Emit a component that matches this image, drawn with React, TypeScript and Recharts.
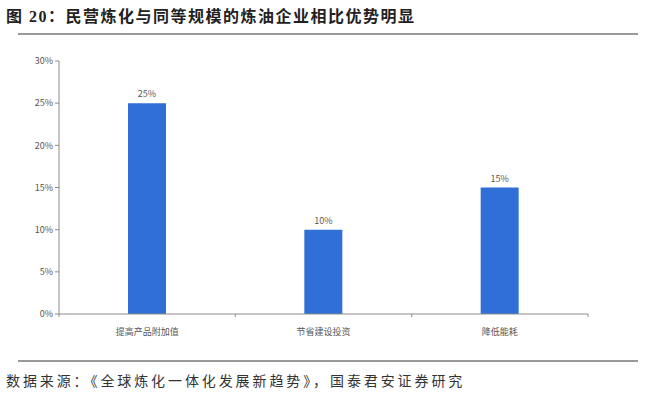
import React from 'react';
import { BarChart, Bar, XAxis, YAxis, LabelList } from 'recharts';

const categories = ['提高产品附加值', '节省建设投资', '降低能耗'];
const advantageValues = [25, 10, 15];
const yTicks = [0, 5, 10, 15, 20, 25, 30];
const boundaryTicks = [0, 1, 2, 3];

const titleText = '图 20：民营炼化与同等规模的炼油企业相比优势明显';
const sourceText = '数据来源：《全球炼化一体化发展新趋势》，国泰君安证券研究';

const data = categories.map((name, i) => ({ name, value: advantageValues[i], idx: i + 0.5 }));

const axisColor = '#8c8c8c';
const textColor = '#555555';
const sansFont = '"Noto Sans CJK SC", "Liberation Sans", sans-serif';

export default function App() {
  return (
    <div style={{ position: 'absolute', left: 0, top: 0, width: 659, height: 398, background: '#fff', overflow: 'hidden' }}>
      <div
        style={{
          position: 'absolute',
          left: 6,
          top: 7,
          fontFamily: '"Liberation Serif", "Noto Sans CJK SC", serif',
          fontWeight: 700,
          fontSize: 16,
          letterSpacing: 1.5,
          color: '#222',
          whiteSpace: 'nowrap',
          lineHeight: '20px',
        }}
      >
        {titleText}
      </div>
      <div style={{ position: 'absolute', left: 18, top: 33, width: 620, height: 2, background: '#9a9a9a' }} />

      <div style={{ position: 'absolute', left: 0, top: 0 }}>
        <BarChart
          width={659}
          height={398}
          data={data}
          margin={{ top: 61, right: 71, bottom: 59, left: 19 }}
        >
          {/* category boundaries with tick marks, also carries the baseline */}
          <XAxis
            xAxisId="bounds"
            type="number"
            dataKey="idx"
            domain={[0, 3]}
            ticks={boundaryTicks}
            tickFormatter={() => ''}
            axisLine={{ stroke: axisColor }}
            tickLine={{ stroke: axisColor }}
            tickSize={3}
            height={5}
          />
          <XAxis
            xAxisId="cat"
            dataKey="name"
            axisLine={false}
            tickLine={false}
            height={20}
            tick={{ fontSize: 9, fill: textColor, fontFamily: sansFont }}
            interval={0}
            tickMargin={4}
          />
          <YAxis
            domain={[0, 30]}
            ticks={yTicks}
            tickFormatter={(v) => `${v}%`}
            width={40}
            axisLine={{ stroke: axisColor }}
            tickLine={{ stroke: axisColor }}
            tickSize={4}
            tick={{ fontSize: 9, fill: textColor, fontFamily: sansFont }}
            interval={0}
          />
          <Bar xAxisId="cat" dataKey="value" fill="#2f6fd6" barSize={38} isAnimationActive={false}>
            <LabelList
              dataKey="value"
              position="top"
              offset={6}
              formatter={(v: number) => `${v}%`}
              style={{ fontSize: 9, fill: textColor, fontFamily: sansFont }}
            />
          </Bar>
        </BarChart>
      </div>
      <div style={{ position: 'absolute', left: 18, top: 360, width: 620, height: 2, background: '#9a9a9a' }} />
      <div
        style={{
          position: 'absolute',
          left: 6,
          top: 370,
          fontFamily: '"Noto Sans CJK SC", serif',
          fontSize: 14,
          letterSpacing: 2.9,
          color: '#333',
          whiteSpace: 'nowrap',
          lineHeight: '20px',
        }}
      >
        {sourceText}
      </div>
    </div>
  );
}
